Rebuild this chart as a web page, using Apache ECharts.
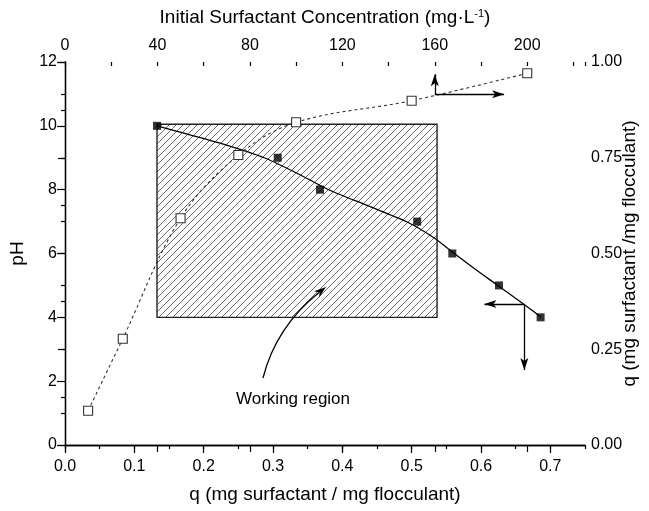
<!DOCTYPE html>
<html>
<head>
<meta charset="utf-8">
<script src="https://cdn.jsdelivr.net/npm/echarts@6/dist/echarts.min.js"></script>
<style>html,body{margin:0;padding:0;background:#fff}#c{width:649px;height:511px}</style>
</head>
<body>
<div id="c"></div>
<script>
// pH vs q (bottom / left axes), filled squares
const qFilled = [0.1327, 0.3068, 0.3678, 0.508, 0.5586, 0.626, 0.686];
const pHFilled = [10.0, 9.0, 8.0, 7.0, 6.0, 5.0, 4.0];
// smooth fitted curve through pH data
const fitQ = [0.1327, 0.1618, 0.2213, 0.2882, 0.3368, 0.3811, 0.4376, 0.4928, 0.5315, 0.5611, 0.5922, 0.6248, 0.6548, 0.6764, 0.6865];
const fitPH = [9.995, 9.829, 9.471, 8.992, 8.491, 7.990, 7.489, 6.994, 6.501, 6.006, 5.498, 4.991, 4.518, 4.173, 4.010];
// q vs initial surfactant concentration (top / right axes), open squares
const concOpen = [10, 25, 50, 75, 100, 150, 200];
const qOpen = [0.0896, 0.2776, 0.592, 0.757, 0.8425, 0.899, 0.9705];
// working region rectangle: [qMin, pHMin, qMax, pHMax]
const regionBox = [0.1327, 4.0, 0.5366, 10.05];
// axis ticks
const bottomTicks = [0, 0.75, 0.1, 0.05];
const topTicks = [0, 225, 40, 20];
const leftTicks = [0, 12, 2, 1];
const rightTicks = [0, 1, 0.25];

const FONT = '"Liberation Sans", Arial, sans-serif';
const chart = echarts.init(document.getElementById('c'));

// hatch pattern
const pc = document.createElement('canvas');
const S = 7;
pc.width = 14; pc.height = 14;
const g = pc.getContext('2d');
g.strokeStyle = '#5a5a5a';
g.lineWidth = 0.9;
g.beginPath();
for (let k = -2; k <= 4; k++) {
  const o = k * S;
  g.moveTo(o - 1, 15); g.lineTo(o + 15, -1);
}
g.stroke();

const lbl = {color: '#000', fontSize: 16, fontFamily: FONT};
const axLine = {show: true, lineStyle: {color: '#000', width: 1.3}};
const nameStyle = {color: '#000', fontSize: 19, fontFamily: FONT};

const option = {
  animation: false,
  backgroundColor: '#fff',
  grid: {left: 65, right: 64, top: 62, bottom: 66, outerBoundsMode: 'none', containLabel: false},
  xAxis: [
    { // bottom major
      type: 'value', position: 'bottom', min: bottomTicks[0], max: bottomTicks[1], interval: bottomTicks[2],
      axisLine: axLine, splitLine: {show: false},
      axisTick: {show: true, inside: false, length: 8, lineStyle: {color: '#000', width: 1.2}},
      axisLabel: Object.assign({margin: 14, showMaxLabel: false, formatter: v => v.toFixed(1)}, lbl),
      name: 'q (mg surfactant / mg flocculant)', nameLocation: 'middle', nameGap: 40, nameMoveOverlap: false,
      nameTextStyle: nameStyle
    },
    { // top major
      type: 'value', position: 'top', min: topTicks[0], max: topTicks[1], interval: topTicks[2],
      axisLine: axLine, splitLine: {show: false},
      axisTick: {show: true, inside: true, length: 7, lineStyle: {color: '#000', width: 1.2}},
      axisLabel: Object.assign({margin: 8, showMaxLabel: false}, lbl),
      name: 'Initial Surfactant Concentration (mg·L{sup|-1})', nameLocation: 'middle', nameGap: 34, nameMoveOverlap: false,
      nameTextStyle: Object.assign({
        rich: {sup: {fontSize: 11, verticalAlign: 'top', padding: [0, 0, 9, 0], fontFamily: FONT, color: '#000'}}}, nameStyle)
    },
    { // bottom minor
      type: 'value', position: 'bottom', min: bottomTicks[0], max: bottomTicks[1], interval: bottomTicks[3],
      axisLine: {show: false}, splitLine: {show: false}, axisLabel: {show: false},
      axisTick: {show: true, inside: false, length: 4, lineStyle: {color: '#000', width: 1.2}}
    },
    { // top minor
      type: 'value', position: 'top', min: topTicks[0], max: topTicks[1], interval: topTicks[3],
      axisLine: {show: false}, splitLine: {show: false}, axisLabel: {show: false},
      axisTick: {show: true, inside: true, length: 4, lineStyle: {color: '#000', width: 1.2}}
    }
  ],
  yAxis: [
    {
      type: 'value', position: 'left', min: leftTicks[0], max: leftTicks[1], interval: leftTicks[2],
      axisLine: axLine, splitLine: {show: false},
      axisTick: {show: true, inside: false, length: 8, lineStyle: {color: '#000', width: 1.2}},
      minorTick: {show: true, splitNumber: leftTicks[2] / leftTicks[3], length: 4, lineStyle: {color: '#000', width: 1.2}},
      axisLabel: Object.assign({margin: 8}, lbl),
      name: 'pH', nameLocation: 'middle', nameGap: 38, nameRotate: 90, nameMoveOverlap: false,
      nameTextStyle: nameStyle
    },
    {
      type: 'value', position: 'right', min: rightTicks[0], max: rightTicks[1], interval: rightTicks[2],
      axisLine: axLine, splitLine: {show: false},
      axisTick: {show: true, inside: true, length: 7, lineStyle: {color: '#000', width: 1.2}},
      minorTick: {show: true, splitNumber: 2, length: 4, lineStyle: {color: '#000', width: 1.2}},
      axisLabel: Object.assign({margin: 6, formatter: v => v.toFixed(2)}, lbl),
      name: 'q (mg surfactant /mg flocculant)', nameLocation: 'middle', nameGap: 35, nameRotate: 90, nameMoveOverlap: false,
      nameTextStyle: nameStyle
    }
  ],
  series: [
    {
      type: 'custom', xAxisIndex: 0, yAxisIndex: 0, z: 1, silent: true,
      data: [regionBox],
      renderItem: function (params, api) {
        const p1 = api.coord([api.value(0), api.value(3)]);
        const p2 = api.coord([api.value(2), api.value(1)]);
        return {
          type: 'rect',
          shape: {x: p1[0], y: p1[1], width: p2[0] - p1[0], height: p2[1] - p1[1]},
          style: {fill: {image: pc, repeat: 'repeat'}, stroke: '#222', lineWidth: 1.4}
        };
      }
    },
    {
      type: 'line', xAxisIndex: 1, yAxisIndex: 1, z: 3,
      data: concOpen.map((c, i) => [c, qOpen[i]]),
      smooth: 0.35,
      symbol: 'rect', symbolSize: 9,
      itemStyle: {color: '#fff', borderColor: '#333', borderWidth: 1.1},
      lineStyle: {color: '#333', width: 1.1, type: [3, 3]},
      markLine: {
        silent: true, symbol: ['none', 'arrow'], symbolSize: [6, 12],
        label: {show: false},
        lineStyle: {color: '#000', width: 1.3, type: 'solid'},
        data: [
          [{coord: [160, 0.9157]}, {coord: [160, 0.968]}],
          [{coord: [160, 0.9157]}, {coord: [190, 0.9157]}]
        ]
      }
    },
    {
      type: 'line', xAxisIndex: 0, yAxisIndex: 0, z: 3,
      data: fitQ.map((q, i) => [q, fitPH[i]]),
      smooth: 0.25,
      symbol: 'none',
      lineStyle: {color: '#000', width: 1.3},
      markLine: {
        silent: true, symbol: ['none', 'arrow'], symbolSize: [6, 12],
        label: {show: false},
        lineStyle: {color: '#000', width: 1.3, type: 'solid'},
        data: [
          [{coord: [0.6625, 4.42]}, {coord: [0.605, 4.42]}],
          [{coord: [0.6625, 4.42]}, {coord: [0.6625, 2.35]}]
        ]
      }
    },
    {
      type: 'scatter', xAxisIndex: 0, yAxisIndex: 0, z: 4,
      data: qFilled.map((q, i) => [q, pHFilled[i]]),
      symbol: 'rect', symbolSize: 8,
      itemStyle: {color: '#000'}
    }
  ],
  graphic: [
    {
      type: 'bezierCurve', z: 10, silent: true,
      shape: {x1: 263, y1: 378, x2: 319, y2: 292.6, cpx1: 276, cpy1: 327},
      style: {stroke: '#000', lineWidth: 1.3, fill: null}
    },
    {
      type: 'polygon', z: 10, silent: true,
      shape: {points: [[326, 287], [319.1, 297.5], [319.6, 292.4], [314.1, 291.3]]},
      style: {fill: '#000'}
    },
    {
      type: 'text', z: 10, silent: true, left: 236, top: 391,
      style: {text: 'Working region', fontSize: 17, fontFamily: FONT, fill: '#000'}
    }
  ]
};
chart.setOption(option);
</script>
</body>
</html>
